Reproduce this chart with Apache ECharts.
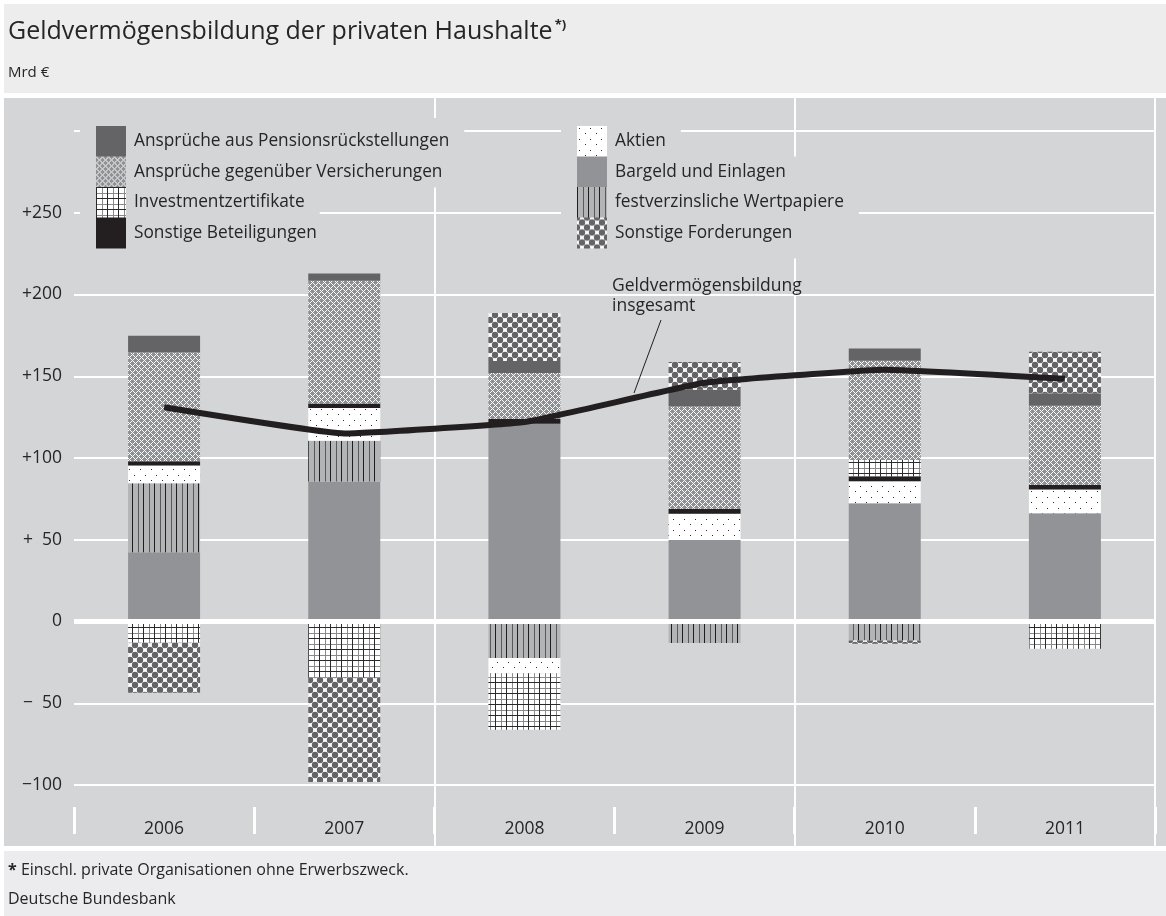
<!DOCTYPE html>
<html>
<head>
<meta charset="utf-8">
<script src="https://cdn.jsdelivr.net/npm/echarts@6/dist/echarts.min.js"></script>
<style>
  html, body { margin: 0; padding: 0; background: #fff; }
  #chart { width: 1166px; height: 916px; }
</style>
</head>
<body>
<div id="chart"></div>
<script>
// Kategorien und Werte (Mrd €)
const years = ['2006', '2007', '2008', '2009', '2010', '2011'];
const bargeld = [42.4, 85.6, 121, 49.9, 72.3, 66.2];
const festverzinslich = [42.2, 25, -22.4, -13.2, -11.6, 0];
const aktien = [10.8, 20, -9.2, 16, 13.5, 14.5];
const beteiligungen = [2.6, 2.8, 3, 3.1, 3, 3];
const investment = [-13, -34.4, -34.6, 0, 10, -16.7];
const versicherungen = [66.6, 75, 28, 62.5, 60.7, 48.3];
const pension = [10.2, 4.5, 7.3, 10.2, 7.5, 7.6];
const forderungen = [-30.6, -63.8, 29.4, 17, -2, 25.4];
const insgesamt = [131, 115, 122, 146, 154, 148.5];

const yTickValues = [-100, -50, 0, 50, 100, 150, 200, 250];
const yTickLabels = ['\u2212100', '\u2212  50', '0', '+  50', '+100', '+150', '+200', '+250'];

const panel = '#d4d5d7';
const textColor = '#262626';
const font = 'Open Sans';

// Muster als kleine Kacheln
function tile(w, h, draw) {
  const c = document.createElement('canvas');
  c.width = w; c.height = h;
  const ctx = c.getContext('2d');
  draw(ctx, w, h);
  return { image: c, repeat: 'repeat' };
}
function px(ctx, x, y, col) { ctx.fillStyle = col; ctx.fillRect(x, y, 1, 1); }

const patVers = tile(6, 6, (ctx, w, h) => {
  ctx.fillStyle = '#8f9093'; ctx.fillRect(0, 0, w, h);
  for (let x = 0; x < w; x++) for (let y = 0; y < h; y++) {
    if ((x + y) % 6 === 0 || (x - y + 6) % 6 === 0) px(ctx, x, y, '#ffffff');
  }
});
const patInvest = tile(11, 11, (ctx, w, h) => {
  ctx.fillStyle = '#ffffff'; ctx.fillRect(0, 0, w, h);
  ctx.fillStyle = '#8a8a8c'; ctx.fillRect(6, 0, 1, h); ctx.fillRect(0, 6, w, 1);
  ctx.fillStyle = '#2a2a2a'; ctx.fillRect(0, 0, 1, h); ctx.fillRect(0, 0, w, 1);
});
const patAktien = tile(11, 11, (ctx, w, h) => {
  ctx.fillStyle = '#ffffff'; ctx.fillRect(0, 0, w, h);
  px(ctx, 2, 2, '#2a2a2a'); px(ctx, 8, 7, '#2a2a2a');
});
const patFest = tile(11, 4, (ctx, w, h) => {
  ctx.fillStyle = '#b3b4b6'; ctx.fillRect(0, 0, w, h);
  ctx.fillStyle = '#1e1e1e'; ctx.fillRect(0, 0, 1, h);
  ctx.fillStyle = '#59595b'; ctx.fillRect(6, 0, 1, h);
});
const patFord = tile(10, 10, (ctx, w, h) => {
  ctx.fillStyle = '#ffffff'; ctx.fillRect(0, 0, w, h);
  ctx.fillStyle = '#646466';
  [[5, 5], [0, 0], [10, 0], [0, 10], [10, 10]].forEach(p => {
    ctx.beginPath(); ctx.arc(p[0], p[1], 3.2, 0, Math.PI * 2); ctx.fill();
  });
});

const barSeries = [
  { name: 'Bargeld und Einlagen', data: bargeld, color: '#929396' },
  { name: 'festverzinsliche Wertpapiere', data: festverzinslich, color: patFest },
  { name: 'Aktien', data: aktien, color: patAktien },
  { name: 'Sonstige Beteiligungen', data: beteiligungen, color: '#231f20' },
  { name: 'Investmentzertifikate', data: investment, color: patInvest },
  { name: 'Ansprüche gegenüber Versicherungen', data: versicherungen, color: patVers },
  { name: 'Ansprüche aus Pensionsrückstellungen', data: pension, color: '#646466' },
  { name: 'Sonstige Forderungen', data: forderungen, color: patFord }
];

const legendOrder = [
  'Ansprüche aus Pensionsrückstellungen', 'Ansprüche gegenüber Versicherungen',
  'Investmentzertifikate', 'Sonstige Beteiligungen',
  'Aktien', 'Bargeld und Einlagen', 'festverzinsliche Wertpapiere', 'Sonstige Forderungen'
];

const chart = echarts.init(document.getElementById('chart'));

const option = {
  animation: false,
  backgroundColor: '#ffffff',
  textStyle: { fontFamily: font },
  title: [
    {
      text: '{t|Geldvermögensbildung der privaten Haushalte}{s|*)}',
      left: 8, top: 19, padding: 0,
      textStyle: {
        rich: {
          t: { fontSize: 25, fontWeight: 'normal', color: textColor, fontFamily: font },
          s: { fontSize: 13, fontWeight: 'bold', color: textColor, fontFamily: font, verticalAlign: 'top', padding: [0, 0, 0, 2] }
        }
      }
    },
    {
      text: 'Mrd €', left: 8, top: 65, padding: 0,
      textStyle: { fontSize: 15, fontWeight: 'normal', color: textColor, fontFamily: font }
    }
  ],
  legend: legendOrder.map((name, i) => {
    const col = i < 4 ? 0 : 1;
    const row = i % 4;
    return {
      data: [name],
      orient: 'vertical',
      left: col ? 561 : 80,
      top: 126 + row * 30.5 - (row === 0 ? 8 : 0),
      padding: [row === 0 ? 8 : 0, 15, row === 3 ? 10 : 0, 16],
      itemWidth: 30, itemHeight: 31,
      icon: 'rect',
      selectedMode: false,
      backgroundColor: panel,
      textStyle: { fontSize: 17.3, color: textColor, fontFamily: font, padding: [0, 0, 0, 3] }
    };
  }),
  grid: [
    { left: 74, right: 11, top: 131, bottom: 131 },
    { left: 74, right: 11, top: 98, bottom: 70 }
  ],
  xAxis: [
    {
      type: 'category', data: years, gridIndex: 0,
      position: 'bottom', offset: 22,
      axisLine: { show: false, onZero: false },
      axisTick: { show: true, length: 27, lineStyle: { color: '#ffffff', width: 3 } },
      axisLabel: { fontSize: 17.5, color: textColor, margin: 13 },
      splitLine: { show: false }
    },
    {
      type: 'category', data: years, gridIndex: 1,
      axisLine: { show: false }, axisTick: { show: false }, axisLabel: { show: false },
      splitLine: { show: true, interval: (i) => i === 2 || i === 4, lineStyle: { color: '#ffffff', width: 2 } }
    }
  ],
  yAxis: [
    {
      type: 'value', gridIndex: 0, min: -100, max: 300, interval: 50,
      axisLine: { show: false }, axisTick: { show: false },
      axisLabel: {
        fontSize: 17.5, color: textColor, margin: 12,
        formatter: (v) => { const k = yTickValues.indexOf(v); return k < 0 ? '' : yTickLabels[k]; }
      },
      splitLine: { show: true, lineStyle: { color: '#ffffff', width: 2 } }
    },
    { type: 'value', gridIndex: 1, show: false }
  ],
  series: barSeries.map(s => ({
    name: s.name, type: 'bar', stack: 'summe', data: s.data,
    barWidth: 72,
    itemStyle: { color: s.color },
    emphasis: { disabled: true }
  })).concat([{
    name: 'Geldvermögensbildung insgesamt',
    type: 'line', data: insgesamt, z: 10,
    symbol: 'none', smooth: 0.1,
    lineStyle: { color: '#231f20', width: 6 },
    markLine: {
      silent: true, symbol: ['none', 'none'],
      label: { show: false },
      lineStyle: { color: '#ffffff', width: 5, type: 'solid' },
      emphasis: { disabled: true },
      data: [{ yAxis: 0 }]
    }
  }]),
  graphic: [
    { type: 'rect', z: -1, silent: true, shape: { x: 4, y: 4, width: 1162, height: 89 }, style: { fill: '#ededee' } },
    { type: 'rect', z: -1, silent: true, shape: { x: 4, y: 98, width: 1162, height: 748 }, style: { fill: panel } },
    { type: 'rect', z: -1, silent: true, shape: { x: 4, y: 851, width: 1162, height: 65 }, style: { fill: '#ececee' } },
    {
      type: 'text', left: 612, top: 276, z: 20,
      style: { text: 'Geldvermögensbildung\ninsgesamt', font: '17.5px "Open Sans"', fill: textColor, lineHeight: 20 }
    },
    {
      type: 'line', z: 20, silent: true,
      shape: { x1: 661, y1: 320, x2: 634, y2: 393 },
      style: { stroke: '#231f20', lineWidth: 1 }
    },
    {
      type: 'text', left: 8, top: 862, z: 20,
      style: {
        text: '{b|*} Einschl. private Organisationen ohne Erwerbszweck.',
        font: '16px "Open Sans"', fill: textColor,
        rich: { b: { fontWeight: 'bold', fontSize: 16, fontFamily: font, fill: textColor } }
      }
    },
    {
      type: 'text', left: 8, top: 891, z: 20,
      style: { text: 'Deutsche Bundesbank', font: '16px "Open Sans"', fill: textColor }
    }
  ]
};

chart.setOption(option);
</script>
</body>
</html>
